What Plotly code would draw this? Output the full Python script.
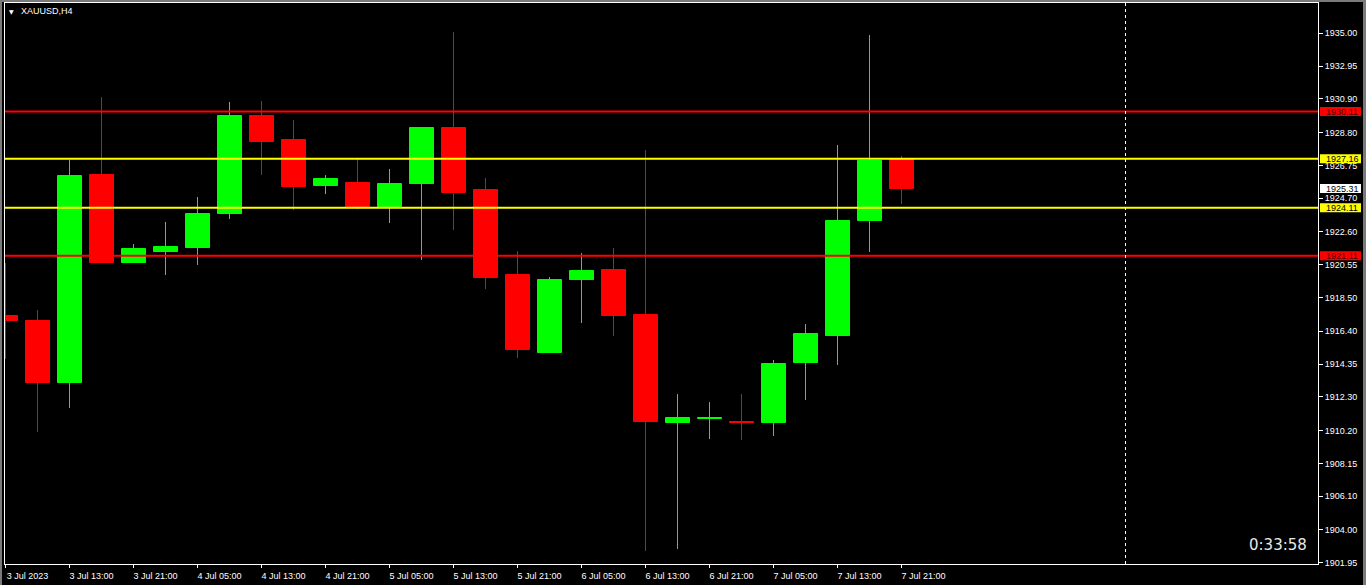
import plotly.graph_objects as go

# ---- data ----
time_labels = ["3 Jul 2023", "3 Jul 13:00", "3 Jul 21:00", "4 Jul 05:00", "4 Jul 13:00",
               "4 Jul 21:00", "5 Jul 05:00", "5 Jul 13:00", "5 Jul 21:00", "6 Jul 05:00",
               "6 Jul 13:00", "6 Jul 21:00", "7 Jul 05:00", "7 Jul 13:00", "7 Jul 21:00"]

opens  = [1917.35, 1917.04, 1913.19, 1926.15, 1920.68, 1921.35, 1921.60, 1923.72, 1929.84, 1928.34,
          1925.47, 1925.65, 1924.16, 1925.59, 1929.09, 1925.22, 1919.91, 1915.04, 1919.60, 1920.22,
          1917.41, 1910.67, 1910.93, 1910.73, 1910.67, 1914.42, 1916.10, 1923.28, 1927.15]
highs  = [1920.66, 1917.73, 1927.09, 1931.04, 1921.85, 1923.22, 1924.78, 1930.71, 1930.77, 1929.59,
          1926.15, 1927.15, 1926.53, 1929.15, 1935.08, 1925.97, 1921.41, 1919.79, 1921.28, 1921.60,
          1927.71, 1912.48, 1911.98, 1912.48, 1914.60, 1916.85, 1928.03, 1934.89, 1927.34]
lows   = [1914.69, 1910.13, 1911.63, 1920.66, 1920.66, 1919.91, 1920.54, 1923.41, 1926.15, 1923.99,
          1924.97, 1924.05, 1923.16, 1920.85, 1922.72, 1919.04, 1914.73, 1915.04, 1916.91, 1916.10,
          1902.68, 1902.81, 1909.67, 1909.61, 1909.86, 1912.11, 1914.29, 1921.35, 1924.34]
closes = [1917.06, 1913.19, 1926.09, 1920.68, 1921.53, 1921.66, 1923.72, 1929.84, 1928.21, 1925.40,
          1925.90, 1924.16, 1925.59, 1929.09, 1925.03, 1919.72, 1915.23, 1919.60, 1920.16, 1917.35,
          1910.73, 1910.98, 1910.98, 1910.67, 1914.35, 1916.23, 1923.28, 1927.03, 1925.31]

price_ticks = [1935.00, 1932.95, 1930.90, 1928.80, 1926.75, 1924.70, 1922.60, 1920.55, 1918.50,
               1916.40, 1914.35, 1912.30, 1910.20, 1908.15, 1906.10, 1904.00, 1901.95]

level_values = [1930.11, 1927.16, 1924.11, 1921.11]
level_colors = ["#ff0000", "#ffff00", "#ffff00", "#ff0000"]
bid_price = 1925.31
separator_index = 35
symbol_title = "XAUUSD,H4"
timer_text = "0:33:58"

# ---- figure geometry ----
W, H = 1366, 585
ML, MR, MT, MB = 5, 48, 3, 21
PW = W - ML - MR
PH = H - MT - MB
PX_PER_BAR = 32.0
y_range = [1901.87, 1936.89]
x0 = -0.5 / PX_PER_BAR
x_range = [x0, x0 + PW / PX_PER_BAR]
ppu = PH / (y_range[1] - y_range[0])

UP, DN = "#00ff00", "#ff0000"
n = len(opens)
idx = list(range(n))
colors = [UP if c >= o else DN for o, c in zip(opens, closes)]

fig = go.Figure()

# wicks (1 px wide bars)
fig.add_trace(go.Bar(
    x=idx, base=lows, y=[h - l for h, l in zip(highs, lows)],
    width=1.0 / PX_PER_BAR,
    marker=dict(color=colors, line=dict(width=0)),
    hoverinfo="skip", showlegend=False,
))

# bodies
fig.add_trace(go.Bar(
    x=idx,
    base=[min(o, c) for o, c in zip(opens, closes)],
    y=[abs(c - o) for o, c in zip(opens, closes)],
    width=0.75,
    marker=dict(color=colors, line=dict(color=colors, width=1)),
    hoverinfo="skip", showlegend=False,
))

shapes = []
annotations = []

# horizontal levels
for v, c in zip(level_values, level_colors):
    shapes.append(dict(type="line", xref="paper", yref="y", x0=0, x1=1, y0=v, y1=v,
                       line=dict(color=c, width=2), layer="above"))

# vertical separator
shapes.append(dict(type="line", xref="x", yref="paper", x0=separator_index, x1=separator_index,
                   y0=0, y1=1, line=dict(color="white", width=1, dash="dot"), layer="above"))

# price labels on right axis
bx0 = 1 + 2.0 / PW
bx1 = 1 + 43.0 / PW
half = 4.5 / ppu
label_items = [(v, c, "#4a0000" if c == "#ff0000" else "black") for v, c in zip(level_values, level_colors)]
label_items.append((bid_price, "#ffffff", "black"))
for v, bg, fc in label_items:
    shapes.append(dict(type="rect", xref="paper", yref="y", x0=bx0, x1=bx1,
                       y0=v - half, y1=v + half, fillcolor=bg, line=dict(width=0), layer="above"))
    annotations.append(dict(xref="paper", yref="y", x=bx0, y=v, xanchor="left", yanchor="middle",
                            xshift=4, text=f"{v:.2f}", showarrow=False,
                            font=dict(family="Liberation Sans, Arial", size=9, color=fc)))

# window frame strips
shapes.append(dict(type="rect", xref="paper", yref="paper", x0=-ML / PW, x1=-3.0 / PW,
                   y0=-MB / PH, y1=1 + MT / PH, fillcolor="#7a7a7a", line=dict(width=0)))
shapes.append(dict(type="rect", xref="paper", yref="paper", x0=-ML / PW, x1=1 + MR / PW,
                   y0=1 + 1.0 / PH, y1=1 + MT / PH, fillcolor="#7a7a7a", line=dict(width=0)))
shapes.append(dict(type="rect", xref="paper", yref="paper", x0=1 + (MR - 3) / PW, x1=1 + MR / PW,
                   y0=-MB / PH, y1=1 + MT / PH, fillcolor="#7a7a7a", line=dict(width=0)))

# title and timer
annotations.append(dict(xref="paper", yref="paper", x=0, y=1, xanchor="left", yanchor="top",
                        xshift=2, yshift=-3, text="▼", showarrow=False,
                        font=dict(family="DejaVu Sans", size=6, color="white")))
annotations.append(dict(xref="paper", yref="paper", x=0, y=1, xanchor="left", yanchor="top",
                        xshift=14, yshift=-1, text=symbol_title, showarrow=False,
                        font=dict(family="Liberation Sans, Arial", size=9, color="white")))
annotations.append(dict(xref="paper", yref="paper", x=1, y=0, xanchor="right", yanchor="bottom",
                        xshift=-9, yshift=8, text=timer_text, showarrow=False,
                        font=dict(family="DejaVu Sans", size=15, color="#e8e8e8")))

fig.update_layout(
    width=W, height=H,
    margin=dict(l=ML, r=MR, t=MT, b=MB, pad=0),
    paper_bgcolor="black", plot_bgcolor="black",
    barmode="overlay", bargap=0, showlegend=False,
    shapes=shapes, annotations=annotations,
    font=dict(family="Liberation Sans, Arial", size=9, color="white"),
)
fig.update_xaxes(
    range=x_range, showgrid=False, zeroline=False,
    showline=True, mirror=True, linecolor="white", linewidth=1,
    tickmode="array", tickvals=list(range(0, n, 2)), ticktext=time_labels,
    ticks="outside", ticklen=3, tickcolor="white", tickwidth=1,
    tickfont=dict(family="Liberation Sans, Arial", size=9, color="white"),
    ticklabelshift=22, ticklabelstandoff=0,
)
fig.update_yaxes(
    range=y_range, side="right", showgrid=False, zeroline=False,
    showline=True, mirror=True, linecolor="white", linewidth=1,
    tickmode="array", tickvals=price_ticks, ticktext=[f"{v:.2f}" for v in price_ticks],
    ticks="outside", ticklen=4, tickcolor="white", tickwidth=1,
    tickfont=dict(family="Liberation Sans, Arial", size=9, color="white"),
)

fig.write_html("out.html", config={"displayModeBar": False},
               post_script="document.body.style.margin='0';document.body.style.overflow='hidden';document.body.style.background='black';")
